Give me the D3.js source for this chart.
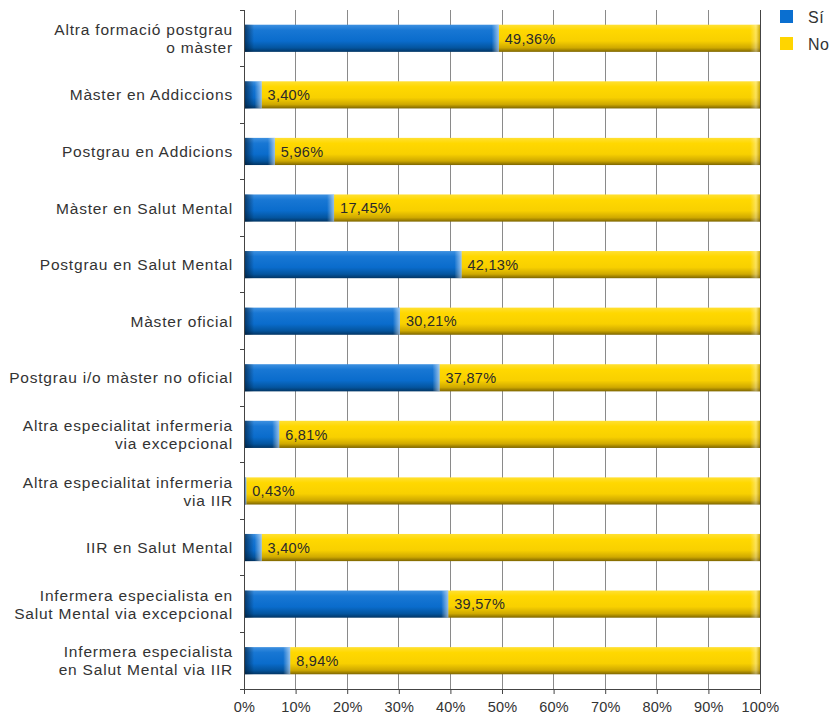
<!DOCTYPE html>
<html><head><meta charset="utf-8">
<script src="https://cdn.jsdelivr.net/npm/d3@7"></script>
<style>body{margin:0;background:#fff}</style>
</head><body><svg id="c" width="832" height="715"></svg>
<script>
const categories = [
  ["Altra formació postgrau","o màster"],
  ["Màster en Addiccions"],
  ["Postgrau en Addicions"],
  ["Màster en Salut Mental"],
  ["Postgrau en Salut Mental"],
  ["Màster oficial"],
  ["Postgrau i/o màster no oficial"],
  ["Altra especialitat infermeria","via excepcional"],
  ["Altra especialitat infermeria","via IIR"],
  ["IIR en Salut Mental"],
  ["Infermera especialista en","Salut Mental via excepcional"],
  ["Infermera especialista","en Salut Mental via IIR"]
];
const siValues = [49.36,3.40,5.96,17.45,42.13,30.21,37.87,6.81,0.43,3.40,39.57,8.94];
const noValues = siValues.map(v => 100 - v);
const valueLabels = ["49,36%","3,40%","5,96%","17,45%","42,13%","30,21%","37,87%","6,81%","0,43%","3,40%","39,57%","8,94%"];
const seriesNames = ["Sí","No"];
const xTicks = [0,10,20,30,40,50,60,70,80,90,100];

const svg = d3.select("#c");
const font = "'Liberation Sans', Arial, Helvetica, sans-serif";
const L = 244, R = 760, T = 10, B = 689;
const x = d3.scaleLinear().domain([0,100]).range([L,R]);
const y = d3.scaleBand().domain(d3.range(categories.length)).range([T,B]).paddingInner(0.52).paddingOuter(0.26);

const defs = svg.append("defs");
function vgrad(id, stops){
  const g = defs.append("linearGradient").attr("id",id).attr("x1",0).attr("y1",0).attr("x2",0).attr("y2",1);
  stops.forEach(s=>g.append("stop").attr("offset",s[0]).attr("stop-color",s[1]));
}
vgrad("gBlue",[[0,"#3d90e0"],[0.2,"#1877d4"],[0.6,"#0a6ccc"],[0.85,"#04559f"],[1,"#023564"]]);
vgrad("gYel",[[0,"#ffe033"],[0.2,"#ffd800"],[0.6,"#f8d000"],[0.85,"#cfa900"],[1,"#7d6500"]]);
const hl = defs.append("linearGradient").attr("id","gLeft").attr("x1",0).attr("x2",1).attr("y1",0).attr("y2",0);
hl.append("stop").attr("offset",0).attr("stop-color","#001a33").attr("stop-opacity",0.7);
hl.append("stop").attr("offset",1).attr("stop-color","#001a33").attr("stop-opacity",0);
const hr = defs.append("linearGradient").attr("id","gRightHi").attr("x1",0).attr("x2",1).attr("y1",0).attr("y2",0);
hr.append("stop").attr("offset",0).attr("stop-color","#ffffff").attr("stop-opacity",0);
hr.append("stop").attr("offset",1).attr("stop-color","#ffffff").attr("stop-opacity",0.55);
const hy = defs.append("linearGradient").attr("id","gYelEnd").attr("x1",0).attr("x2",1).attr("y1",0).attr("y2",0);
hy.append("stop").attr("offset",0).attr("stop-color","#ffffff").attr("stop-opacity",0);
hy.append("stop").attr("offset",0.6).attr("stop-color","#ffffff").attr("stop-opacity",0.35);
hy.append("stop").attr("offset",1).attr("stop-color","#806000").attr("stop-opacity",0.4);

// gridlines
svg.append("g").selectAll("line").data(xTicks.slice(1)).join("line")
  .attr("x1",d=>x(d)).attr("x2",d=>x(d)).attr("y1",T).attr("y2",B)
  .attr("stroke",d=>d===100?"#444":"#8a8a8a").attr("stroke-width",1).attr("shape-rendering","crispEdges");

// bars
const rows = svg.append("g").selectAll("g").data(categories).join("g")
  .attr("transform",(d,i)=>`translate(0,${y(i)})`);
const bh = y.bandwidth();
rows.append("rect").attr("x",(d,i)=>x(siValues[i])).attr("width",(d,i)=>x(siValues[i]+noValues[i])-x(siValues[i]))
  .attr("y",0).attr("height",bh).attr("fill","url(#gYel)");
rows.append("rect").attr("x",(d,i)=>x(100)-10).attr("width",10).attr("y",0).attr("height",bh).attr("fill","url(#gYelEnd)");
rows.append("rect").attr("x",x(0)).attr("width",(d,i)=>x(siValues[i])-x(0))
  .attr("y",0).attr("height",bh).attr("fill","url(#gBlue)");
rows.append("rect").attr("x",x(0)).attr("width",(d,i)=>Math.min(10,x(siValues[i])-x(0)))
  .attr("y",0).attr("height",bh).attr("fill","url(#gLeft)");
rows.append("rect").attr("x",(d,i)=>x(siValues[i])-Math.min(7,x(siValues[i])-x(0)))
  .attr("width",(d,i)=>Math.min(7,x(siValues[i])-x(0)))
  .attr("y",0).attr("height",bh).attr("fill","url(#gRightHi)");
rows.append("text").attr("x",(d,i)=>x(siValues[i])+6).attr("y",bh/2).attr("dy","0.36em")
  .attr("font-family",font).attr("font-size",14.5).attr("letter-spacing",0.3).attr("fill","#2a2a2a")
  .text((d,i)=>valueLabels[i]);

// y axis
const yAxis = svg.append("g");
yAxis.append("line").attr("x1",L).attr("x2",L).attr("y1",T).attr("y2",B).attr("stroke","#444").attr("shape-rendering","crispEdges");
const bounds = d3.range(categories.length+1).map(i=> i===0 ? T : (i===categories.length? B : y(i) - y.step()*y.paddingInner()/2));
yAxis.selectAll(".tk").data(bounds).join("line").attr("class","tk")
  .attr("x1",L-4).attr("x2",L).attr("y1",d=>d).attr("y2",d=>d).attr("stroke","#444").attr("shape-rendering","crispEdges");
const cl = svg.append("g").selectAll("text").data(categories).join("text")
  .attr("x",233).attr("y",(d,i)=>y(i)+bh/2)
  .attr("text-anchor","end").attr("font-family",font).attr("font-size",15.5).attr("letter-spacing",0.8).attr("fill","#333");
cl.each(function(d){
  const t = d3.select(this);
  const n = d.length;
  d.forEach((line,j)=>{
    t.append("tspan").attr("x",233).attr("dy", j===0 ? `${0.36 - (n-1)*0.58}em` : "1.16em").text(line);
  });
});

// x axis
const xa = svg.append("g").attr("transform",`translate(0,${B})`)
  .call(d3.axisBottom(x).tickValues(xTicks).tickSize(5).tickPadding(8).tickFormat(d=>d+"%"));
xa.select(".domain").attr("stroke","#444");
xa.selectAll(".tick line").attr("stroke","#444");
xa.selectAll("text").attr("font-family",font).attr("font-size",14.5).attr("letter-spacing",0.2).attr("fill","#333");

// legend
const lg = svg.append("g").selectAll("g").data(seriesNames).join("g")
  .attr("transform",(d,i)=>`translate(780,${10+i*27})`);
lg.append("rect").attr("width",13).attr("height",13).attr("fill",(d,i)=>i===0?"#0a6fd0":"#ffd500");
lg.append("text").attr("x",28).attr("y",7).attr("dy","0.36em").attr("font-family",font).attr("font-size",16).attr("letter-spacing",0.5).attr("fill","#333").text(d=>d);
</script></body></html>
